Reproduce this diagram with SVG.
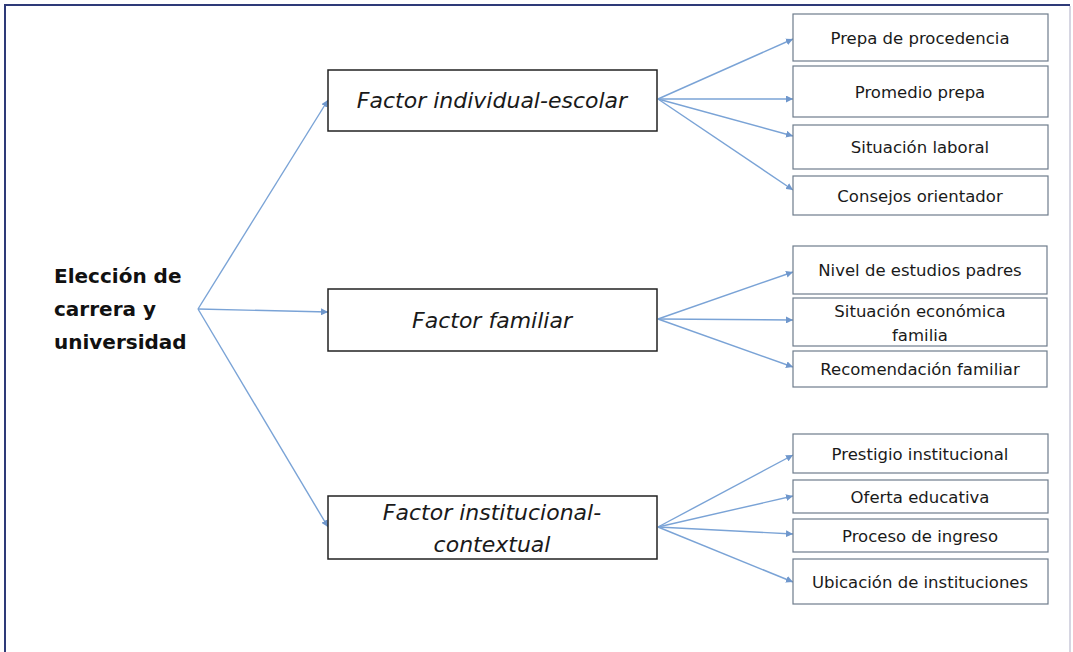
<svg xmlns="http://www.w3.org/2000/svg" width="1073" height="652" viewBox="0 0 1073 652">
<style>
.frame{stroke:#2e3a78;stroke-width:2;fill:none}
.frame2{stroke:#c9c9d9;stroke-width:1.5;fill:none}
.mid{fill:#fff;stroke:#222;stroke-width:1.5}
.leaf{fill:#fff;stroke:#6e7c8c;stroke-width:1.2}
.conn{stroke:#7aa3d6;stroke-width:1.4;fill:none;marker-end:url(#ah)}
.main{font-family:"DejaVu Sans",sans-serif;font-weight:bold;font-size:20px;fill:#111}
.mt{font-family:"DejaVu Sans",sans-serif;font-style:italic;font-size:22px;fill:#1a1a1a;text-anchor:middle}
.lt{font-family:"DejaVu Sans",sans-serif;font-size:16.5px;fill:#1a1a1a;text-anchor:middle}
</style>
<defs>
<marker id="ah" viewBox="0 0 10 10" refX="10" refY="5" markerWidth="5" markerHeight="5" orient="auto" markerUnits="strokeWidth">
<path d="M0,0 L10,5 L0,10 z" fill="#6f97cc"/>
</marker>
</defs>
<rect width="1073" height="652" fill="#fff"/>
<line class="frame" x1="5" y1="5" x2="1070" y2="5"/>
<line class="frame" x1="5" y1="4" x2="5" y2="652"/>
<line class="frame2" x1="1070" y1="6" x2="1070" y2="652"/>

<g id="connectors">
<line class="conn" x1="198" y1="309" x2="328" y2="100"/>
<line class="conn" x1="198" y1="309" x2="328" y2="312"/>
<line class="conn" x1="198" y1="309" x2="328" y2="527"/>
<line class="conn" x1="658" y1="99" x2="793" y2="39"/>
<line class="conn" x1="658" y1="99" x2="793" y2="99"/>
<line class="conn" x1="658" y1="99" x2="793" y2="136"/>
<line class="conn" x1="658" y1="99" x2="793" y2="190"/>
<line class="conn" x1="658" y1="319" x2="793" y2="272"/>
<line class="conn" x1="658" y1="319" x2="793" y2="320"/>
<line class="conn" x1="658" y1="319" x2="793" y2="367"/>
<line class="conn" x1="658" y1="527" x2="793" y2="455"/>
<line class="conn" x1="658" y1="527" x2="793" y2="496"/>
<line class="conn" x1="658" y1="527" x2="793" y2="534"/>
<line class="conn" x1="658" y1="527" x2="793" y2="582"/>
</g>

<g id="root">
<text class="main" x="54" y="283">Elección de</text>
<text class="main" x="54" y="316">carrera y</text>
<text class="main" x="54" y="349">universidad</text>
</g>

<g id="f-individual">
<rect class="mid" x="328" y="70" width="329" height="61"/>
<text class="mt" x="492" y="108">Factor individual-escolar</text>
</g>
<g id="f-familiar">
<rect class="mid" x="328" y="289" width="329" height="62"/>
<text class="mt" x="492" y="328">Factor familiar</text>
</g>
<g id="f-institucional">
<rect class="mid" x="328" y="496" width="329" height="63"/>
<text class="mt" x="492" y="520">Factor institucional-</text>
<text class="mt" x="492" y="552">contextual</text>
</g>

<g id="n-prepa"><rect class="leaf" x="793" y="14" width="255" height="47"/><text class="lt" x="920" y="44">Prepa de procedencia</text></g>
<g id="n-promedio"><rect class="leaf" x="793" y="66" width="255" height="51"/><text class="lt" x="920" y="98">Promedio prepa</text></g>
<g id="n-laboral"><rect class="leaf" x="793" y="125" width="255" height="44"/><text class="lt" x="920" y="153">Situación laboral</text></g>
<g id="n-consejos"><rect class="leaf" x="793" y="176" width="255" height="39"/><text class="lt" x="920" y="202">Consejos orientador</text></g>

<g id="n-nivel"><rect class="leaf" x="793" y="246" width="254" height="48"/><text class="lt" x="920" y="276">Nivel de estudios padres</text></g>
<g id="n-economica"><rect class="leaf" x="793" y="298" width="254" height="48"/><text class="lt" x="920" y="317">Situación económica</text><text class="lt" x="920" y="341">familia</text></g>
<g id="n-recomendacion"><rect class="leaf" x="793" y="351" width="254" height="36"/><text class="lt" x="920" y="375">Recomendación familiar</text></g>

<g id="n-prestigio"><rect class="leaf" x="793" y="434" width="255" height="39"/><text class="lt" x="920" y="460">Prestigio institucional</text></g>
<g id="n-oferta"><rect class="leaf" x="793" y="480" width="255" height="33"/><text class="lt" x="920" y="503">Oferta educativa</text></g>
<g id="n-proceso"><rect class="leaf" x="793" y="519" width="255" height="33"/><text class="lt" x="920" y="542">Proceso de ingreso</text></g>
<g id="n-ubicacion"><rect class="leaf" x="793" y="559" width="255" height="45"/><text class="lt" x="920" y="588">Ubicación de instituciones</text></g>
</svg>
